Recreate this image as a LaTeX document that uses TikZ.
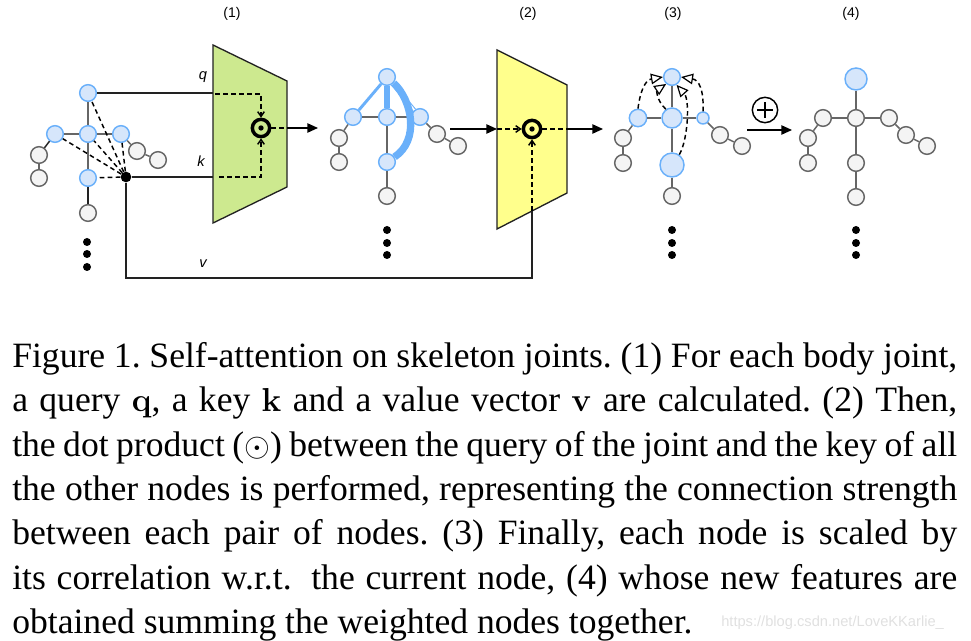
\documentclass[tikz,border=0pt]{standalone}
\usepackage[no-math]{fontspec}
\setmainfont{Liberation Serif}
\setsansfont{Liberation Sans}
\usetikzlibrary{arrows.meta,calc}
\definecolor{gfill}{HTML}{F4F4F4}
\definecolor{gline}{HTML}{666666}
\definecolor{bfill}{HTML}{D6E6FB}
\definecolor{bline}{HTML}{6AB0FA}
\definecolor{tgreen}{HTML}{CDE98F}
\definecolor{tyellow}{HTML}{FFFF8C}
\definecolor{wire}{HTML}{222222}
\definecolor{wmark}{HTML}{E0E0E0}
\begin{document}
\begin{tikzpicture}[x=0.75pt,y=-0.75pt,
  gnode/.style={circle,draw=gline,fill=gfill,line width=1.1pt,minimum size=12.5pt,inner sep=0pt},
  bnode/.style={circle,draw=bline,fill=bfill,line width=1.1pt,minimum size=12.5pt,inner sep=0pt},
  bone/.style={draw=gline,line width=1.1pt},
  wireline/.style={draw=wire,line width=1.1pt},
  dline/.style={draw=black,line width=1.1pt,dash pattern=on 3.5pt off 2.5pt},
  arr/.style={draw=black,line width=1.1pt,-{Triangle[length=8pt,width=7pt]}},
  barb/.style={-{Straight Barb[length=3.5pt,width=5pt]}},
  otri/.style={-{Triangle[open,length=9pt,width=8pt,line width=0.9pt]}},
  odot/.style={circle,draw=black,line width=2.6pt,minimum size=13pt,inner sep=0pt,
    path picture={\fill[black] (path picture bounding box.center) circle (2pt);}},
  bigdot/.style={circle,fill=black,minimum size=6pt,inner sep=0pt},
  jdot/.style={circle,fill=black,minimum size=8pt,inner sep=0pt},
  lbl/.style={font=\sffamily\fontsize{10.5}{12}\selectfont,inner sep=0pt},
  ilbl/.style={font=\sffamily\itshape\fontsize{11}{12}\selectfont,inner sep=0pt},
  trap/.style={draw=wire,line width=1pt}
]
\useasboundingbox (0,0) rectangle (971,641);

% ---------- trapezoids ----------
\coordinate (T1a) at (213,45);
\coordinate (T1b) at (287,81);
\coordinate (T1c) at (287,187);
\coordinate (T1d) at (213,223);
\draw[trap,fill=tgreen] (T1a) -- (T1b) -- (T1c) -- (T1d) -- cycle;
\coordinate (T2a) at (497,50);
\coordinate (T2b) at (567,85);
\coordinate (T2c) at (567,193);
\coordinate (T2d) at (497,229);
\draw[trap,fill=tyellow] (T2a) -- (T2b) -- (T2c) -- (T2d) -- cycle;

% ---------- labels ----------
\node[lbl] (L1) at (232,14) {(1)};
\node[lbl] (L2) at (528,14) {(2)};
\node[lbl] (L3) at (673,14) {(3)};
\node[lbl] (L4) at (851,14) {(4)};
\node[ilbl] (lq) at (203,77) {q};
\node[ilbl] (lk) at (201,161) {k};
\node[ilbl] (lv) at (203,264) {v};

% ---------- skeleton 1 ----------
\node[bnode] (a-h) at (88,93) {};
\node[bnode] (a-c) at (88,134) {};
\node[bnode] (a-ls) at (55,134) {};
\node[bnode] (a-rs) at (121,134) {};
\node[bnode] (a-hp) at (88,178) {};
\node[gnode] (a-bl) at (88,213) {};
\node[gnode] (a-le) at (39,155) {};
\node[gnode] (a-lh) at (39,178) {};
\node[gnode] (a-re) at (137,151) {};
\node[gnode] (a-rh) at (158,160) {};
\node[bigdot] (a-d1) at (87,242) {};
\node[bigdot] (a-d2) at (87,254) {};
\node[bigdot] (a-d3) at (87,267) {};
\node[jdot] (a-j) at (126,177) {};
\draw[bone] (a-h) -- (a-c);
\draw[bone] (a-c) -- (a-ls);
\draw[bone] (a-c) -- (a-rs);
\draw[bone] (a-c) -- (a-hp);
\draw[bone,draw=wire] (a-hp) -- (a-bl);
\draw[bone,draw=wire] (a-ls) -- (a-le);
\draw[bone] (a-le) -- (a-lh);
\draw[bone] (a-rs) -- (a-re);
\draw[bone] (a-re) -- (a-rh);
\foreach \n in {a-h,a-c,a-ls,a-rs,a-hp}{\draw[dline] (a-j) -- (\n);}

% ---------- q,k,v wires and first block ----------
\node[odot] (o1) at (261,128) {};
\coordinate (t1q) at (213,93);
\coordinate (t1qd) at (215,94);
\coordinate (t1k) at (213,177);
\coordinate (t1kd) at (219,177);
\coordinate (t1out) at (287,128);
\coordinate (tip1) at (318,128);
\draw[wireline] (a-h) -- (t1q);
\draw[wireline] (a-j) -- (t1k);
\draw[dline,barb] (t1qd) -| (o1);
\draw[dline,barb] (t1kd) -| (o1);
\draw[dline] (o1) -- (t1out);
\draw[arr] (t1out) -- (tip1);

% ---------- skeleton 2 ----------
\node[bnode] (b-h) at (387,77) {};
\node[bnode] (b-c) at (387,117) {};
\node[bnode] (b-ls) at (353,117) {};
\node[bnode] (b-rs) at (420,117) {};
\node[bnode] (b-hp) at (387,162) {};
\node[gnode] (b-bl) at (387,196) {};
\node[gnode] (b-le) at (339,138) {};
\node[gnode] (b-lh) at (339,162) {};
\node[gnode] (b-re) at (437,134) {};
\node[gnode] (b-rh) at (458,146) {};
\node[bigdot] (b-d1) at (387,230) {};
\node[bigdot] (b-d2) at (387,243) {};
\node[bigdot] (b-d3) at (387,255) {};
\draw[bone] (b-c) -- (b-ls);
\draw[bone] (b-c) -- (b-rs);
\draw[bone] (b-c) -- (b-hp);
\draw[bone] (b-hp) -- (b-bl);
\draw[bone] (b-ls) -- (b-le);
\draw[bone] (b-le) -- (b-lh);
\draw[bone] (b-rs) -- (b-re);
\draw[bone] (b-re) -- (b-rh);
\draw[draw=bline,line width=2.2pt] (b-h) -- (b-ls);
\draw[draw=bline,line width=4.5pt] (b-h) -- (b-c);
\draw[draw=bline,line width=0.8pt,double=white,double distance=1.4pt] (b-h) -- (b-rs);
\draw[draw=bline,line width=5.5pt] (b-h) .. controls (412,100) and (420,140) .. (b-hp);

% ---------- second block ----------
\node[odot] (o2) at (532,129) {};
\coordinate (s2out) at (450,129);
\coordinate (t2in) at (497,129);
\coordinate (t2out) at (567,129);
\coordinate (tip2) at (603,129);
\coordinate (v2) at (532,278);
\coordinate (t2v) at (532,211);
\draw[arr] (s2out) -- (t2in);
\draw[dline,barb] (t2in) -- (o2);
\draw[dline] (o2) -- (t2out);
\draw[arr] (t2out) -- (tip2);
\draw[wireline] (a-j) |- (v2) -- (t2v);
\draw[dline,barb] (t2v) -- (o2);

% ---------- skeleton 3 ----------
\node[bnode] (c-h) at (672,77) {};
\node[bnode,minimum size=15pt] (c-c) at (672,118) {};
\node[bnode,minimum size=13pt] (c-ls) at (638,118) {};
\node[bnode,minimum size=9pt] (c-rs) at (703,118) {};
\node[bnode,minimum size=18pt] (c-hp) at (672,165) {};
\node[gnode] (c-bl) at (672,196) {};
\node[gnode] (c-le) at (623,138) {};
\node[gnode] (c-lh) at (623,163) {};
\node[gnode] (c-re) at (720,135) {};
\node[gnode] (c-rh) at (742,146) {};
\node[bigdot] (c-d1) at (672,230) {};
\node[bigdot] (c-d2) at (672,243) {};
\node[bigdot] (c-d3) at (672,255) {};
\draw[bone] (c-h) -- (c-c);
\draw[bone] (c-c) -- (c-ls);
\draw[bone] (c-c) -- (c-rs);
\draw[bone] (c-c) -- (c-hp);
\draw[bone] (c-hp) -- (c-bl);
\draw[bone] (c-ls) -- (c-le);
\draw[bone] (c-le) -- (c-lh);
\draw[bone] (c-rs) -- (c-re);
\draw[bone] (c-re) -- (c-rh);
\draw[dline,otri] (c-ls.north) .. controls (640,92) and (645,80) .. (c-h.west);
\draw[dline,otri] (c-c.125) .. controls (656,100) and (657,90) .. (c-h.230);
\draw[dline,otri] (c-hp.55) .. controls (688,140) and (690,100) .. (c-h.300);
\draw[dline,otri] (c-rs.north) .. controls (704,90) and (699,80) .. (c-h.east);

% ---------- sum ----------
\node[circle,draw=black,line width=1.1pt,minimum size=19pt,inner sep=0pt,
  path picture={\draw[line width=1.1pt] ($(path picture bounding box.center)+(-6pt,0)$) -- ($(path picture bounding box.center)+(6pt,0)$);
  \draw[line width=1.1pt] ($(path picture bounding box.center)+(0,-6pt)$) -- ($(path picture bounding box.center)+(0,6pt)$);}]
  (plus) at (765,110) {};
\coordinate (s3out) at (747,130);
\coordinate (tip3) at (792,130);
\draw[arr] (s3out) -- (tip3);

% ---------- skeleton 4 ----------
\node[bnode,minimum size=16.5pt] (d-h) at (856,79) {};
\node[gnode] (d-c) at (856,118) {};
\node[gnode] (d-ls) at (823,118) {};
\node[gnode] (d-rs) at (889,118) {};
\node[gnode] (d-hp) at (856,163) {};
\node[gnode] (d-bl) at (856,197) {};
\node[gnode] (d-le) at (808,138) {};
\node[gnode] (d-lh) at (808,163) {};
\node[gnode] (d-re) at (906,135) {};
\node[gnode] (d-rh) at (927,146) {};
\node[bigdot] (d-d1) at (856,230) {};
\node[bigdot] (d-d2) at (856,243) {};
\node[bigdot] (d-d3) at (856,255) {};
\draw[bone] (d-h) -- (d-c);
\draw[bone] (d-c) -- (d-ls);
\draw[bone] (d-c) -- (d-rs);
\draw[bone] (d-c) -- (d-hp);
\draw[bone] (d-hp) -- (d-bl);
\draw[bone] (d-ls) -- (d-le);
\draw[bone] (d-le) -- (d-lh);
\draw[bone] (d-rs) -- (d-re);
\draw[bone] (d-re) -- (d-rh);

% ---------- caption ----------
\node[anchor=north west,inner sep=0pt,text width=708.75pt,align=justify,
  font=\fontsize{26.7}{33.3}\selectfont] (cap) at (12,342) {%
\tolerance=10000\emergencystretch=20pt\frenchspacing
Figure 1. Self-attention on skeleton joints. (1) For each body joint,\linebreak
a query $\mathbf{q}$, a key $\mathbf{k}$ and a value vector $\mathbf{v}$ are calculated. (2) Then,\linebreak
the dot product ($\odot$) between the query of the joint and the key of all\linebreak
the other nodes is performed, representing the connection strength\linebreak
between each pair of nodes. (3) Finally, each node is scaled by\linebreak
its correlation w.r.t.\hspace{0.25em} the current node, (4) whose new features are\linebreak
obtained summing the weighted nodes together.};
\node[anchor=west,inner sep=0pt,text=wmark,font=\sffamily\fontsize{11}{12}\selectfont] (wm) at (721,623) {https://blog.csdn.net/LoveKKarlie\_};
\end{tikzpicture}
\end{document}
